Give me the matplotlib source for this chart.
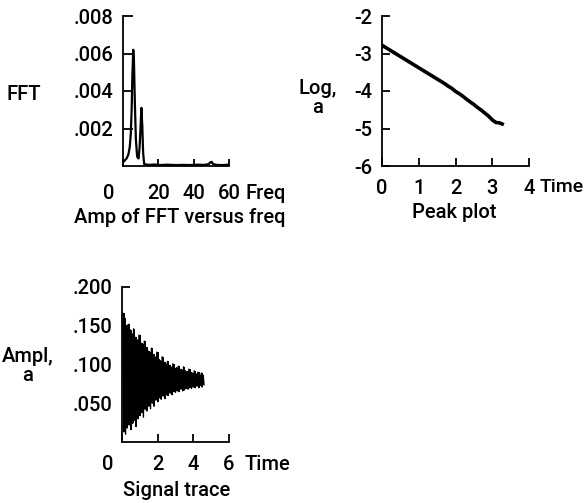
import numpy as np
import matplotlib
matplotlib.use("Agg")
import matplotlib.pyplot as plt

plt.rcParams['font.family'] = ['Roboto', 'DejaVu Sans']
plt.rcParams['font.weight'] = 'medium'

# FFT amplitude versus frequency
freq = [0, 1, 2, 3, 3.8, 4.4, 4.9, 5.3, 5.8, 6.2, 6.7, 7.3, 8.0, 8.8, 9.4,
        9.9, 10.4, 10.9, 11.4, 12.0, 13, 15, 18, 21, 25, 30, 34, 38, 42,
        46, 48.5, 49.5, 50.2, 51, 53, 56, 60]
fft_amp = [.0002, .0003, .0004, .0006, .0010, .0017, .0030, .0048, .0062,
           .0056, .0034, .0014, .0005, .0004, .0010, .0020, .0031, .0022,
           .0007, .0001, .00008, .00006, .00008, .00005, .00007, .00005,
           .00006, .00005, .00007, .00006, .0001, .0002, .00022, .0001,
           .00006, .00005, .00007]

# peak plot: log of amplitude versus time
peak_t = [0, .1, .2, .3, .4, .5, .6, .7, .8, .9, 1.0, 1.1, 1.2, 1.3, 1.4,
          1.5, 1.6, 1.7, 1.8, 1.9, 2.0, 2.1, 2.2, 2.3, 2.4, 2.5, 2.6, 2.7,
          2.8, 2.9, 3.0, 3.1, 3.2, 3.27]
peak_log = [-2.78, -2.84, -2.90, -2.96, -3.02, -3.08, -3.14, -3.20, -3.26,
            -3.32, -3.38, -3.44, -3.50, -3.56, -3.62, -3.68, -3.74, -3.80,
            -3.87, -3.93, -4.01, -4.07, -4.14, -4.22, -4.29, -4.36, -4.44,
            -4.51, -4.59, -4.67, -4.77, -4.84, -4.85, -4.88]

# signal trace: upper and lower peaks of the oscillation
sig_t = [0.05, 0.15, 0.25, 0.35, 0.45, 0.55, 0.65, 0.75, 0.85, 0.95, 1.05,
         1.15, 1.25, 1.35, 1.45, 1.55, 1.65, 1.75, 1.85, 1.95, 2.05, 2.15,
         2.25, 2.35, 2.45, 2.55, 2.65, 2.75, 2.85, 2.95, 3.05, 3.15, 3.25,
         3.35, 3.45, 3.55, 3.65, 3.75, 3.85, 3.95, 4.05, 4.15, 4.25, 4.35,
         4.45, 4.55]
sig_hi = [.166, .160, .150, .152, .145, .140, .146, .135, .132, .138, .128,
          .126, .130, .122, .118, .116, .121, .113, .110, .116, .107, .105,
          .110, .103, .101, .104, .099, .097, .101, .095, .096, .098, .094,
          .093, .097, .092, .091, .094, .090, .089, .092, .088, .090, .087,
          .089, .086]
sig_lo = [.013, .010, .018, .022, .016, .024, .028, .020, .030, .034, .038,
          .032, .042, .040, .046, .043, .050, .046, .054, .052, .057, .055,
          .059, .056, .061, .060, .063, .061, .065, .064, .066, .065, .068,
          .066, .067, .069, .068, .070, .069, .071, .070, .072, .070, .073,
          .071, .074]

W, H = 587, 503
fig = plt.figure(figsize=(W / 100, H / 100), dpi=100)
FS = 14.5


def make_axes(x0, y0, x1, y1):
    ax = fig.add_axes([x0 / W, 1 - y1 / H, (x1 - x0) / W, (y1 - y0) / H])
    for s in ['top', 'right']:
        ax.spines[s].set_visible(False)
    for s in ['left', 'bottom']:
        ax.spines[s].set_linewidth(1.3)
    ax.tick_params(direction='in', length=6, width=1.3, labelsize=FS)
    return ax


#%% Amp of FFT versus freq
ax1 = make_axes(123, 16, 229, 166)
ax1.plot(freq, fft_amp, color='black', lw=1.6)
ax1.set_xlim(0, 60)
ax1.set_ylim(0, .008)
ax1.set_yticks([.002, .004, .006, .008])
ax1.set_yticklabels(['.002', '.004', '.006', '.008'])
ax1.set_xticks([0, 20, 40, 60])
ax1.set_xticklabels(['', '20', '40', '60'])
ax1.tick_params(axis='y', length=7, pad=7)
ax1.tick_params(axis='x', length=5, pad=13)
ax1.annotate('0', xy=(0, 0), xycoords='axes fraction', xytext=(-10, -13),
             textcoords='offset points', ha='center', va='top', fontsize=FS)
ax1.annotate('Freq', xy=(1, 0), xycoords='axes fraction', xytext=(12, -13),
             textcoords='offset points', ha='left', va='top', fontsize=FS)
fig.text(24 / W, 1 - 95 / H, 'FFT', ha='center', va='center', fontsize=FS)
fig.text(180 / W, 1 - 217 / H, 'Amp of FFT versus freq', ha='center',
         va='center', fontsize=FS)

#%% Peak plot
ax2 = make_axes(382, 16, 529, 166)
ax2.plot(peak_t, peak_log, color='black', lw=2.6)
ax2.set_xlim(0, 4)
ax2.set_ylim(-6, -2)
ax2.set_yticks([-6, -5, -4, -3, -2])
ax2.set_yticklabels(['-6', '-5', '-4', '-3', '-2'])
ax2.set_xticks([0, 1, 2, 3, 4])
ax2.tick_params(axis='y', length=6, pad=7)
ax2.tick_params(axis='x', length=6, pad=9)
ax2.annotate('Time', xy=(1, 0), xycoords='axes fraction', xytext=(8, -9),
             textcoords='offset points', ha='left', va='top', fontsize=14)
fig.text(318 / W, 1 - 98 / H, 'Log,\na', ha='center', va='center',
         fontsize=FS, multialignment='center', linespacing=1.0)
fig.text(454 / W, 1 - 212 / H, 'Peak plot', ha='center', va='center',
         fontsize=FS)

#%% Signal trace
ax3 = make_axes(122, 287, 229, 442)
trace_t = np.ravel(np.column_stack([sig_t, np.array(sig_t) + 0.05]))
trace_a = np.ravel(np.column_stack([sig_hi, sig_lo]))
ax3.fill_between(trace_t, np.repeat(sig_lo, 2), np.repeat(sig_hi, 2),
                 color='black', lw=0, step='post')
ax3.plot(trace_t, trace_a, color='black', lw=1.0)
ax3.set_xlim(0, 6)
ax3.set_ylim(0, .2)
ax3.set_yticks([.05, .10, .15, .20])
ax3.set_yticklabels(['.050', '.100', '.150', '.200'])
ax3.set_xticks([0, 2, 4, 6])
ax3.set_xticklabels(['', '2', '4', '6'])
ax3.tick_params(axis='y', length=6, pad=7)
ax3.tick_params(axis='x', length=6, pad=9)
ax3.annotate('0', xy=(0, 0), xycoords='axes fraction', xytext=(-10, -9),
             textcoords='offset points', ha='center', va='top', fontsize=FS)
ax3.annotate('Time', xy=(1, 0), xycoords='axes fraction', xytext=(11, -9),
             textcoords='offset points', ha='left', va='top', fontsize=FS)
fig.text(28 / W, 1 - 366 / H, 'Ampl,\na', ha='center', va='center',
         fontsize=FS, multialignment='center', linespacing=1.0)
fig.text(177 / W, 1 - 490 / H, 'Signal trace', ha='center', va='center',
         fontsize=FS)

plt.savefig('out.png', dpi=100)
